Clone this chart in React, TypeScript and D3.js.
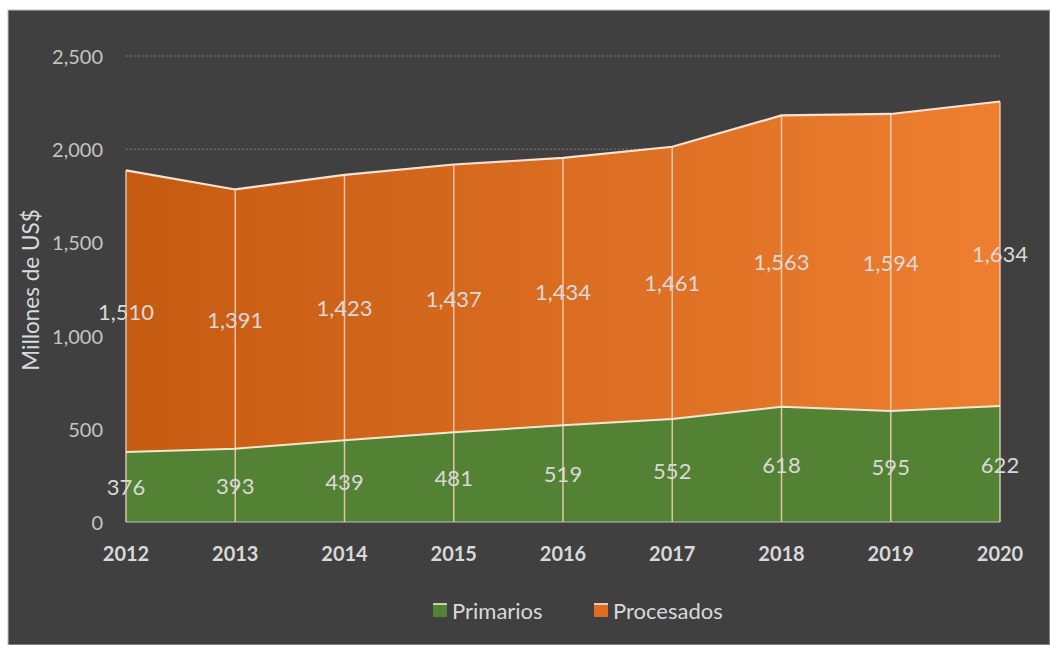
import React from "react";
import * as d3 from "d3";

const years = ["2012", "2013", "2014", "2015", "2016", "2017", "2018", "2019", "2020"];
const primarios = [376, 393, 439, 481, 519, 552, 618, 595, 622];
const procesados = [1510, 1391, 1423, 1437, 1434, 1461, 1563, 1594, 1634];
const yTicks = [0, 500, 1000, 1500, 2000, 2500];
const seriesNames = ["Primarios", "Procesados"];

const W = 1050;
const H = 645;
const FONT = "Lato, 'Open Sans', sans-serif";

export default function App() {
  const x = d3.scalePoint<string>().domain(years).range([126, 1000]);
  const y = d3.scaleLinear().domain([0, 2500]).range([522, 56]);

  const rows = years.map((yr, i) => ({ yr, p: primarios[i], q: procesados[i] }));
  const stack = d3.stack<any>().keys(["p", "q"])(rows);

  const area = d3
    .area<any>()
    .x((d: any) => x(d.data.yr) as number)
    .y0((d: any) => y(d[0]))
    .y1((d: any) => y(d[1]));
  const line = d3
    .line<any>()
    .x((d: any) => x(d.data.yr) as number)
    .y((d: any) => y(d[1]));

  const fmt = d3.format(",");

  return (
    <svg
      width={W}
      height={H}
      style={{ position: "absolute", left: 0, top: 0, display: "block" }}
    >
      <defs>
        <linearGradient id="orangeGrad" x1="126" x2="1000" y1="0" y2="0" gradientUnits="userSpaceOnUse">
          <stop offset="0" stopColor="#c55a11" />
          <stop offset="1" stopColor="#ee7f31" />
        </linearGradient>
      </defs>
      <rect x={0} y={0} width={W} height={H} fill="#ffffff" />
      <rect x={8} y={10} width={W - 8} height={H - 10} fill="#404040" stroke="#bfbfbf" strokeWidth={1} />
      {/* gridlines */}
      {yTicks.slice(1).map((t) => (
        <line
          key={t}
          x1={126}
          x2={1000}
          y1={y(t)}
          y2={y(t)}
          stroke="#8c8c8c"
          strokeWidth={1}
          strokeDasharray="1.5 2.5"
        />
      ))}
      {/* areas */}
      <path d={area(stack[0]) || ""} fill="#548235" />
      <path d={area(stack[1]) || ""} fill="url(#orangeGrad)" />
      {/* drop lines */}
      {years.map((yr, i) => (
        <line
          key={yr}
          x1={x(yr)}
          x2={x(yr)}
          y1={y(0)}
          y2={y(primarios[i] + procesados[i])}
          stroke="#f4d3bd"
          strokeOpacity={0.85}
          strokeWidth={1.5}
        />
      ))}
      <path d={line(stack[0]) || ""} fill="none" stroke="#f2e8cf" strokeWidth={2} />
      <path d={line(stack[1]) || ""} fill="none" stroke="#fbe3d3" strokeWidth={2.2} />
      {/* x axis line */}
      <line x1={126} x2={1000} y1={y(0)} y2={y(0)} stroke="#bfbfbf" strokeWidth={1.2} />
      {/* y tick labels */}
      {yTicks.map((t) => (
        <text
          key={t}
          x={103}
          y={y(t)}
          textAnchor="end"
          dominantBaseline="central"
          fill="#c4c4c4"
          fontSize={20}
          fontFamily={FONT}
        >
          {fmt(t)}
        </text>
      ))}
      {/* x tick labels */}
      {years.map((yr) => (
        <text
          key={yr}
          x={x(yr)}
          y={553}
          textAnchor="middle"
          dominantBaseline="central"
          fill="#d9d9d9"
          fontSize={20}
          fontWeight="bold"
          fontFamily={FONT}
        >
          {yr}
        </text>
      ))}
      {/* axis title */}
      <text
        transform={`translate(30,290) rotate(-90)`}
        textAnchor="middle"
        dominantBaseline="central"
        fill="#d9d9d9"
        fontSize={22.5}
        fontFamily={FONT}
      >
        Millones de US$
      </text>
      {/* data labels */}
      {stack.map((s, si) =>
        s.map((d: any, i: number) => (
          <text
            key={`${si}-${i}`}
            x={x(d.data.yr)}
            y={(y(d[0]) + y(d[1])) / 2}
            textAnchor="middle"
            dominantBaseline="central"
            fill="#d9d9d9"
            fontSize={22}
            fontFamily={FONT}
          >
            {fmt(si === 0 ? primarios[i] : procesados[i])}
          </text>
        ))
      )}
      {/* legend */}
      {seriesNames.map((name, i) => {
        const lx = i === 0 ? 433 : 594;
        return (
          <g key={name}>
            <rect x={lx} y={603} width={14} height={14} fill={i === 0 ? "#548235" : "#e06b1f"} />
            <line x1={lx} x2={lx + 14} y1={604} y2={604} stroke="#f4e8d8" strokeWidth={1.5} />
            <text
              x={lx + 19}
              y={610}
              dominantBaseline="central"
              fill="#d9d9d9"
              fontSize={22}
              fontFamily={FONT}
            >
              {name}
            </text>
          </g>
        );
      })}
    </svg>
  );
}
